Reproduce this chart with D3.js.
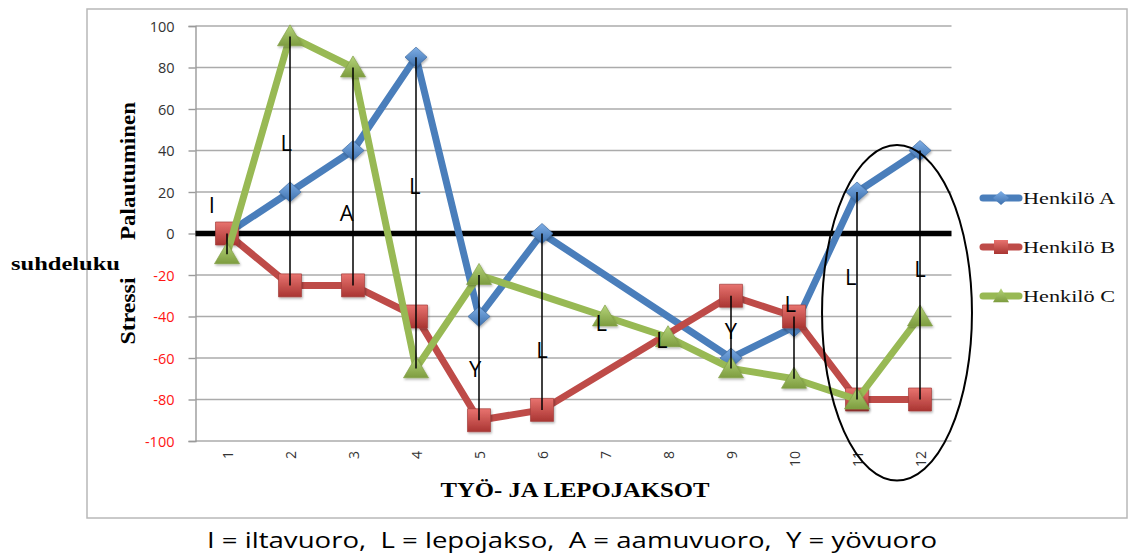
<!DOCTYPE html>
<html>
<head>
<meta charset="utf-8">
<script src="https://cdn.jsdelivr.net/npm/d3@7"></script>
<style>
  html, body { margin: 0; padding: 0; background: #fff; }
  svg { display: block; }
</style>
</head>
<body>
<svg id="chart" width="1128" height="554"></svg>
<script>
// Work and rest periods 1–12
const periods = [1, 2, 3, 4, 5, 6, 7, 8, 9, 10, 11, 12];
// Stress / recovery ratio per person (null = no measurement)
const henkiloA = [0, 20, 40, 85, -40, 0, null, null, -60, -45, 20, 40];
const henkiloB = [0, -25, -25, -40, -90, -85, null, null, -30, -40, -80, -80];
const henkiloC = [-10, 95, 80, -65, -20, null, -40, -50, -65, -70, -80, -40];
const seriesNames = ["Henkilö A", "Henkilö B", "Henkilö C"];
const yTicks = [100, 80, 60, 40, 20, 0, -20, -40, -60, -80, -100];
const yTickLabels = ["100", "80", "60", "40", "20", "0", "-20", "-40", "-60", "-80", "-100"];
// Shift type letters placed at (period, level)
const shiftLetters = ["I", "L", "A", "L", "Y", "L", "L", "L", "Y", "L", "L", "L"];
const letterPeriod = [0.76, 1.94, 2.9, 3.98, 4.94, 6.0, 6.94, 7.9, 9.0, 9.94, 10.9, 12.0];
const letterLevel = [10, 40, 6, 19, -69, -60, -47, -55, -51, -38, -25, -21];

const svg = d3.select("#chart");

const x = d3.scaleLinear().domain([0.5, 12.5]).range([195.5, 951.5]);
const y = d3.scaleLinear().domain([-100, 100]).range([441, 26]);

const colors = ["#4a7ebb", "#be4b48", "#98b954"];
const allSeries = [henkiloA, henkiloB, henkiloC];

// marker outlines: diamond, square, triangle (half-width w, half-height h)
function markerPath(kind, w, h) {
  if (kind === 0) return `M0,${-h}L${w},0L0,${h}L${-w},0Z`;
  if (kind === 1) return `M${-w},${-h}H${w}V${h}H${-w}Z`;
  return `M0,${-h * 1.1}L${w},${h * 0.9}H${-w}Z`;
}
const markerSize = [[11, 10], [11.5, 11.5], [12.5, 10.5]];
const legendMarkerSize = [[8, 7], [7, 7], [8, 7]];

// gradients for the bevelled markers
const defs = svg.append("defs");
const grads = [
  ["gA", "#7eaee6", "#3d70ad"],
  ["gB", "#e8736f", "#a93532"],
  ["gC", "#b5d47a", "#7d9c3f"]
];
grads.forEach(([id, c1, c2]) => {
  const g = defs.append("linearGradient").attr("id", id)
    .attr("x1", 0).attr("y1", 0).attr("x2", 0).attr("y2", 1);
  g.append("stop").attr("offset", "0%").attr("stop-color", c1);
  g.append("stop").attr("offset", "100%").attr("stop-color", c2);
});
const shadow = defs.append("filter").attr("id", "shadow")
  .attr("x", "-30%").attr("y", "-30%").attr("width", "160%").attr("height", "160%");
shadow.append("feDropShadow").attr("dx", 1).attr("dy", 1.5).attr("stdDeviation", 1.2)
  .attr("flood-color", "#000").attr("flood-opacity", 0.3);

// chart frame
svg.append("rect")
  .attr("x", 87).attr("y", 9).attr("width", 1040).attr("height", 509)
  .attr("fill", "#fff").attr("stroke", "#b8b8b8").attr("stroke-width", 1.5);

// horizontal gridlines
svg.append("g").selectAll("line").data(yTicks.filter(v => v !== 0)).join("line")
  .attr("x1", x(0.5)).attr("x2", x(12.5))
  .attr("y1", d => y(d)).attr("y2", d => y(d))
  .attr("stroke", "#ababab").attr("stroke-width", 1.4);

// value axis line and tick marks
const yAxis = svg.append("g").attr("transform", `translate(${x(0.5)},0)`)
  .call(d3.axisLeft(y).tickValues(yTicks).tickSize(7).tickFormat(() => ""));
yAxis.select(".domain").attr("stroke", "#9a9a9a").attr("stroke-width", 1.4);
yAxis.selectAll(".tick line").attr("stroke", "#9a9a9a").attr("stroke-width", 1.4);

// value labels: recovery side grey, stress side red
svg.append("g").selectAll("text").data(yTicks).join("text")
  .attr("x", x(0.5) - 21).attr("y", d => y(d))
  .attr("text-anchor", "end").attr("dominant-baseline", "central")
  .attr("font-family", "'Open Sans', sans-serif").attr("font-size", 14.5)
  .style("fill", d => d < 0 ? "rgb(255,20,20)" : "rgb(51,51,51)")
  .text((d, i) => yTickLabels[i]);

// category labels (rotated)
svg.append("g").selectAll("text").data(periods).join("text")
  .attr("transform", d => `translate(${x(d)},451) rotate(-90)`)
  .attr("text-anchor", "end").attr("dominant-baseline", "central")
  .attr("font-family", "'Open Sans', sans-serif").attr("font-size", 14).attr("fill", "#333")
  .text(d => d);

// zero line
svg.append("line")
  .attr("x1", x(0.5)).attr("x2", x(12.5)).attr("y1", y(0)).attr("y2", y(0))
  .attr("stroke", "#000").attr("stroke-width", 5.5);

// series lines + markers
const line = d3.line().x(d => x(d.p)).y(d => y(d.v));

allSeries.forEach((vals, i) => {
  const pts = periods.map((p, k) => ({ p, v: vals[k] })).filter(d => d.v !== null);
  const g = svg.append("g");
  g.append("path").datum(pts).attr("d", line)
    .attr("fill", "none").attr("stroke", colors[i]).attr("stroke-width", 7)
    .attr("stroke-linejoin", "round");
  g.selectAll("path.m").data(pts).join("path").attr("class", "m")
    .attr("transform", d => `translate(${x(d.p)},${y(d.v)})`)
    .attr("d", markerPath(i, markerSize[i][0], markerSize[i][1]))
    .attr("fill", `url(#${grads[i][0]})`)
    .attr("filter", "url(#shadow)")
    .attr("stroke", d3.color(colors[i]).darker(0.4)).attr("stroke-width", 0.7);
});

// high-low lines across the three persons
const hiLo = periods.map((p, k) => {
  const v = allSeries.map(s => s[k]).filter(d => d !== null);
  return { p, hi: d3.max(v), lo: d3.min(v), n: v.length };
}).filter(d => d.n > 1 && d.hi > d.lo);
svg.append("g").selectAll("line").data(hiLo).join("line")
  .attr("x1", d => x(d.p)).attr("x2", d => x(d.p))
  .attr("y1", d => y(d.hi)).attr("y2", d => y(d.lo))
  .attr("stroke", "#000").attr("stroke-width", 1.5);

// shift letters
svg.append("g").selectAll("text").data(shiftLetters).join("text")
  .attr("x", (d, k) => x(letterPeriod[k])).attr("y", (d, k) => y(letterLevel[k]))
  .attr("text-anchor", "middle")
  .attr("font-family", "'Open Sans', sans-serif").attr("font-size", 22).attr("fill", "#000")
  .text(d => d);

// ellipse around periods 11–12
svg.append("ellipse")
  .attr("cx", x(11.635)).attr("cy", y(-38.2))
  .attr("rx", x(11.635) - x(10.445)).attr("ry", y(-119) - y(-38.2))
  .attr("fill", "none").attr("stroke", "#000").attr("stroke-width", 2);

// axis titles
svg.append("text").attr("x", 11).attr("y", 270)
  .attr("font-family", "'Liberation Serif', serif").attr("font-weight", "bold").attr("font-size", 19)
  .attr("textLength", 109).attr("lengthAdjust", "spacingAndGlyphs")
  .text("suhdeluku");
svg.append("text").attr("transform", "translate(135,171) rotate(-90)")
  .attr("text-anchor", "middle")
  .attr("font-family", "'Liberation Serif', serif").attr("font-weight", "bold").attr("font-size", 21)
  .attr("textLength", 138).attr("lengthAdjust", "spacingAndGlyphs")
  .text("Palautuminen");
svg.append("text").attr("transform", "translate(135,311) rotate(-90)")
  .attr("text-anchor", "middle")
  .attr("font-family", "'Liberation Serif', serif").attr("font-weight", "bold").attr("font-size", 21)
  .attr("textLength", 67).attr("lengthAdjust", "spacingAndGlyphs")
  .text("Stressi");
svg.append("text").attr("x", 575).attr("y", 497).attr("text-anchor", "middle")
  .attr("font-family", "'Liberation Serif', serif").attr("font-weight", "bold").attr("font-size", 20)
  .attr("textLength", 269).attr("lengthAdjust", "spacingAndGlyphs")
  .text("TYÖ- JA LEPOJAKSOT");

// legend
const legend = svg.append("g").selectAll("g").data(seriesNames).join("g")
  .attr("transform", (d, i) => `translate(0,${198 + i * 49})`);
legend.append("line").attr("x1", 983).attr("x2", 1019).attr("y1", 0).attr("y2", 0)
  .attr("stroke", (d, i) => colors[i]).attr("stroke-width", 7).attr("stroke-linecap", "round");
legend.append("path")
  .attr("transform", "translate(1001,0)")
  .attr("d", (d, i) => markerPath(i, legendMarkerSize[i][0], legendMarkerSize[i][1]))
  .attr("fill", (d, i) => `url(#${grads[i][0]})`);
legend.append("text").attr("x", 1023).attr("y", 6)
  .attr("font-family", "'Liberation Serif', serif").attr("font-size", 16.5).attr("fill", "#111")
  .attr("textLength", 92).attr("lengthAdjust", "spacingAndGlyphs")
  .text(d => d);

// caption
svg.append("text").attr("x", 572).attr("y", 548).attr("text-anchor", "middle")
  .attr("font-family", "'Open Sans', sans-serif").attr("font-size", 21).attr("fill", "#000")
  .attr("textLength", 730).attr("lengthAdjust", "spacingAndGlyphs")
  .attr("xml:space", "preserve")
  .text("I = iltavuoro,  L = lepojakso,  A = aamuvuoro,  Y = yövuoro");
</script>
</body>
</html>
